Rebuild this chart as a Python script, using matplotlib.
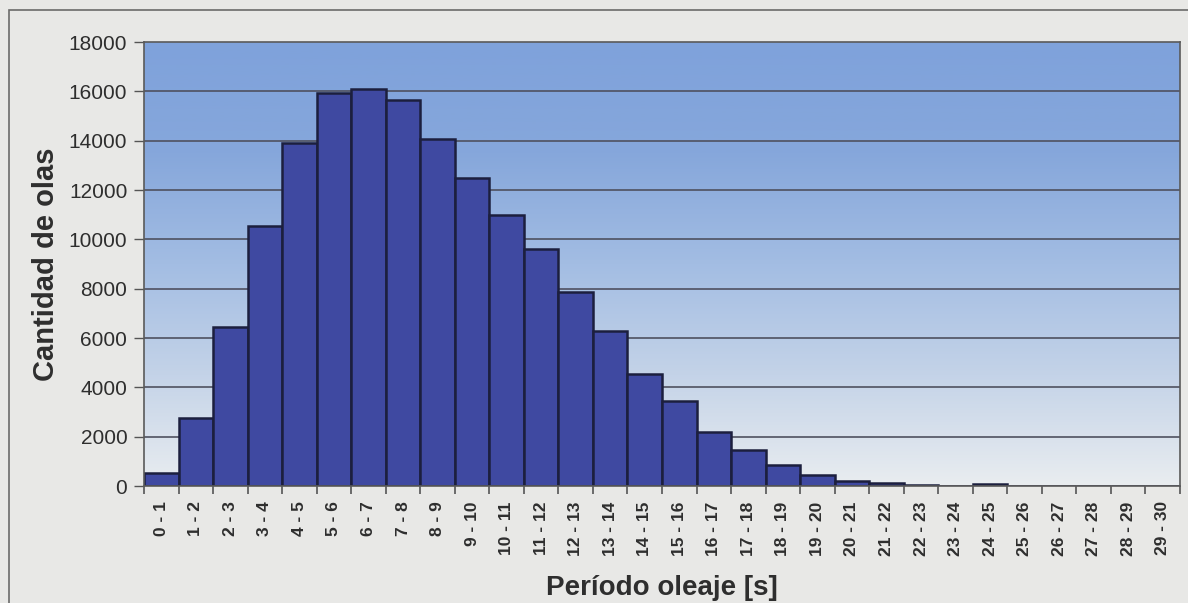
import numpy as np
import matplotlib
matplotlib.use("Agg")
import matplotlib.pyplot as plt
from matplotlib.colors import LinearSegmentedColormap
from matplotlib.patches import Rectangle

# Wave period classes (s) and number of waves in each class
periodos = [f"{i} - {i + 1}" for i in range(30)]
cantidad = [520, 2750, 6450, 10550, 13900, 15950, 16100, 15650, 14050, 12500,
            11000, 9600, 7850, 6300, 4550, 3450, 2200, 1450, 850, 450,
            200, 120, 60, 0, 70, 0, 0, 0, 0, 0]
y_ticks = list(range(0, 18001, 2000))

plt.rcParams['font.family'] = ['Liberation Sans', 'DejaVu Sans']

fig = plt.figure(figsize=(11.88, 6.03), dpi=100)
fig.patch.set_facecolor('#e8e8e6')

# thin outer frame of the chart area
fig.patches.append(Rectangle((9 / 1188, -0.05), 1.2, 1 - 10 / 603 + 0.05,
                             transform=fig.transFigure, fill=False,
                             edgecolor='#6a6a6a', linewidth=1.2))

ax = fig.add_axes([144 / 1188, 1 - 486 / 603, (1180 - 144) / 1188, (486 - 42) / 603])

x = np.arange(len(periodos))

# vertical blue gradient behind the bars
grad = LinearSegmentedColormap.from_list(
    'fondo', ['#e9edf0', '#c4d3e8', '#a3bde3', '#86a7db', '#7fa2db'])
ax.imshow(np.linspace(0, 1, 256).reshape(-1, 1), cmap=grad, origin='lower',
          aspect='auto', extent=[-0.5, len(periodos) - 0.5, 0, 18000], zorder=0)

for yv in y_ticks[1:-1]:
    ax.axhline(yv, color='#4f5160', linewidth=1.2, zorder=1)

ax.bar(x, cantidad, width=1.0, color='#3f49a1', edgecolor='#1c1f3e',
       linewidth=1.8, zorder=2)

ax.set_xlim(-0.5, len(periodos) - 0.5)
ax.set_ylim(0, 18000)

ax.set_yticks(y_ticks)
ax.set_yticklabels([str(v) for v in y_ticks], fontsize=15, color='#2e2e2e')
ax.tick_params(axis='y', length=7, width=1, color='#555555', pad=5)

ax.set_xticks(x)
ax.set_xticklabels(periodos, rotation=90, fontsize=12.5, fontweight='bold',
                   color='#2e2e2e')
ax.tick_params(axis='x', which='major', length=0, pad=11)
ax.set_xticks(np.arange(-0.5, len(periodos), 1.0), minor=True)
ax.tick_params(axis='x', which='minor', length=6, width=1.2, color='#555555')

for s in ax.spines.values():
    s.set_color('#5a5a5a')
    s.set_linewidth(1.2)

ax.set_xlabel('Período oleaje [s]', fontsize=20, fontweight='bold',
              color='#2e2e2e', labelpad=14)
ax.set_ylabel('Cantidad de olas', fontsize=21, fontweight='bold',
              color='#2e2e2e', labelpad=6)

fig.savefig('out.png', dpi=100, facecolor=fig.get_facecolor())
